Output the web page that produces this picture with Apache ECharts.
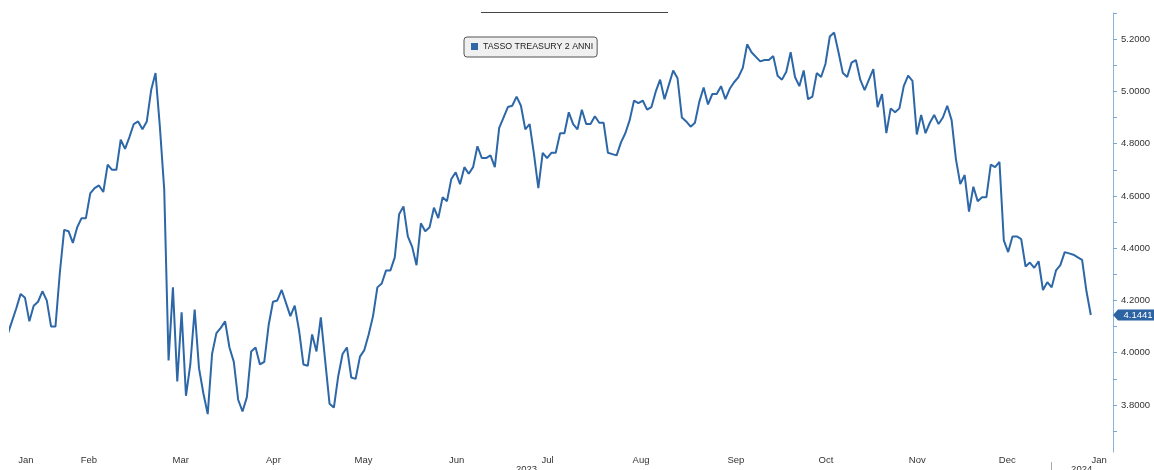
<!DOCTYPE html>
<html><head><meta charset="utf-8">
<script src="https://cdn.jsdelivr.net/npm/echarts@6/dist/echarts.min.js"></script>
<style>html,body{margin:0;padding:0;background:#fff;overflow:hidden}#c{width:1154px;height:470px}</style>
</head><body><div id="c"></div>
<script>
// Trading-day index (0 = first trading day shown) and 2-year Treasury yield (%)
const tradingDay = [-1,0,1,2,3,4,5,6,7,8,9,10,11,12,13,14,15,16,17,18,19,20,21,22,23,24,25,26,27,28,29,30,31,32,33,34,35,36,37,38,39,40,41,42,43,44,45,46,47,48,49,50,51,52,53,54,55,56,57,58,59,60,61,62,64,65,66,67,68,69,70,71,72,73,74,75,76,77,78,79,80,81,82,83,84,85,86,87,88,89,90,91,92,93,94,95,96,97,98,99,100,101,102,103,104,105,106,107,108,109,110,111,112,113,114,115,116,117,118,119,120,121,122,123,124,125,126,127,128,129,130,131,132,133,134,135,136,137,138,139,140,141,142,143,144,145,146,147,148,149,150,151,152,153,154,155,156,157,158,159,160,161,162,163,164,165,166,167,168,169,170,172,173,174,175,176,177,178,179,180,181,182,183,184,185,186,187,188,189,190,191,192,193,194,195,196,197,198,199,200,201,202,203,204,205,206,207,208,209,210,211,212,213,214,215,216,217,218,219,220,221,222,223,224,225,226,227,228,229,230,231,232,233,234,235,236,237,238,239,240,241,242,243,244,245,246,247,248];
const yieldValues = [4.07,4.12,4.17,4.225,4.21,4.12,4.18,4.195,4.235,4.20,4.10,4.10,4.305,4.47,4.465,4.42,4.48,4.515,4.515,4.61,4.63,4.64,4.615,4.72,4.70,4.70,4.815,4.78,4.825,4.875,4.885,4.855,4.885,5.005,5.07,4.865,4.625,3.97,4.25,3.89,4.155,3.835,3.955,4.165,3.94,3.845,3.765,3.995,4.075,4.095,4.12,4.02,3.965,3.82,3.775,3.83,4.005,4.02,3.955,3.965,4.105,4.195,4.20,4.24,4.14,4.18,4.085,3.955,3.95,4.07,4.005,4.135,3.97,3.805,3.79,3.91,3.995,4.02,3.905,3.90,3.985,4.01,4.07,4.14,4.25,4.265,4.315,4.315,4.365,4.53,4.56,4.445,4.405,4.335,4.495,4.465,4.48,4.555,4.515,4.595,4.58,4.665,4.69,4.645,4.71,4.685,4.71,4.79,4.745,4.745,4.755,4.71,4.86,4.90,4.94,4.945,4.98,4.945,4.855,4.875,4.76,4.63,4.765,4.745,4.765,4.765,4.84,4.84,4.92,4.875,4.855,4.93,4.875,4.875,4.905,4.88,4.88,4.765,4.76,4.755,4.805,4.84,4.89,4.965,4.955,4.965,4.93,4.94,5.00,5.045,4.97,5.025,5.08,5.05,4.90,4.885,4.865,4.88,4.96,5.015,4.95,4.99,4.99,5.02,4.97,5.01,5.035,5.055,5.09,5.18,5.15,5.115,5.12,5.12,5.135,5.06,5.045,5.075,5.15,5.055,5.02,5.08,4.97,4.98,5.07,5.055,5.105,5.21,5.225,5.15,5.07,5.055,5.11,5.12,5.045,5.005,5.045,5.085,4.94,4.99,4.84,4.935,4.92,4.935,5.02,5.06,5.04,4.835,4.91,4.84,4.88,4.91,4.875,4.90,4.945,4.89,4.74,4.645,4.68,4.54,4.635,4.58,4.595,4.595,4.72,4.71,4.73,4.43,4.385,4.445,4.445,4.435,4.33,4.345,4.325,4.35,4.24,4.27,4.25,4.315,4.335,4.385,4.38,4.375,4.365,4.355,4.235,4.1441];
const seriesName = 'TASSO TREASURY 2 ANNI';
const monthLabels = ['Jan','Feb','Mar','Apr','May','Jun','Jul','Aug','Sep','Oct','Nov','Dec','Jan'];
const monthLabelDay = [3.2,17.7,38.8,60.1,80.8,102.2,123.1,144.6,166.4,187.1,208.1,228.8,249.9];
const yearLabels = ['2023','2024'];
const yearLabelDay = [118.3,245.9];
const yearSeparatorDay = [238.9];
const yLabelValues = [3.8,4.0,4.2,4.4,4.6,4.8,5.0,5.2];
const yTickValues = [3.7,3.8,3.9,4.0,4.1,4.2,4.3,4.4,4.5,4.6,4.7,4.8,4.9,5.0,5.1,5.2,5.3];

const X_MIN = -0.45, X_MAX = 253.1;
const lastValue = yieldValues[yieldValues.length - 1];
const lineColor = '#2d67a8';
const font = 'Liberation Sans, Arial, sans-serif';

function nearestLabel(values, labels, v) {
  let bi = 0, bd = Infinity;
  values.forEach((x, i) => { const d = Math.abs(x - v); if (d < bd) { bd = d; bi = i; } });
  return labels[bi];
}

const chart = echarts.init(document.getElementById('c'), null, {renderer: 'canvas'});
chart.setOption({
  animation: false,
  backgroundColor: '#ffffff',
  grid: {left: 10, right: 41, top: 13, bottom: 18, containLabel: false, outerBoundsMode: 'none'},
  legend: {
    show: true, left: 464, top: 37,
    data: [seriesName],
    icon: 'rect', itemWidth: 7, itemHeight: 7,
    backgroundColor: '#f0f0f0', borderColor: '#555', borderWidth: 1, borderRadius: 3,
    padding: [5, 4, 6, 7],
    textStyle: {fontFamily: font, fontSize: 8.8, color: '#222'}
  },
  graphic: [{
    type: 'line', shape: {x1: 481, y1: 12.5, x2: 668, y2: 12.5},
    style: {stroke: '#444', lineWidth: 1}, silent: true
  }],
  xAxis: [{
    type: 'value', min: X_MIN, max: X_MAX,
    axisLine: {show: false, onZero: false}, axisTick: {show: false}, splitLine: {show: false},
    axisLabel: {
      customValues: monthLabelDay, margin: 3,
      fontFamily: font, fontSize: 9.5, color: '#333', hideOverlap: false,
      formatter: v => nearestLabel(monthLabelDay, monthLabels, v)
    }
  }, {
    type: 'value', min: X_MIN, max: X_MAX, position: 'bottom', offset: 10,
    axisLine: {show: false, onZero: false}, splitLine: {show: false},
    axisTick: {show: true, customValues: yearSeparatorDay, length: 9, lineStyle: {color: '#aaa'}},
    axisLabel: {
      customValues: yearLabelDay, margin: 2, hideOverlap: false,
      fontFamily: font, fontSize: 9.5, color: '#333',
      formatter: v => nearestLabel(yearLabelDay, yearLabels, v)
    }
  }],
  yAxis: {
    type: 'value', position: 'right', min: 3.62, max: 5.30, scale: true,
    axisLine: {show: true, onZero: false, lineStyle: {color: '#8db1db', width: 1}},
    axisTick: {show: true, customValues: yTickValues, length: 4, lineStyle: {color: '#7ea6d6'}},
    splitLine: {show: false},
    axisLabel: {
      customValues: yLabelValues, margin: 8,
      fontFamily: font, fontSize: 9.5, color: '#333',
      formatter: v => Number(v).toFixed(4)
    }
  },
  series: [{
    name: seriesName, type: 'line', xAxisIndex: 0,
    data: tradingDay.map((d, i) => [d, yieldValues[i]]),
    showSymbol: false, clip: true,
    lineStyle: {color: lineColor, width: 2},
    itemStyle: {color: lineColor},
    markPoint: {
      silent: true,
      symbol: 'path://M0,5 L5,0 L46,0 L46,10 L5,10 Z',
      symbolSize: [46, 11], symbolKeepAspect: false,
      symbolOffset: [23, 0],
      itemStyle: {color: '#2b63a3'},
      label: {
        show: true, position: 'inside', color: '#fff',
        fontFamily: font, fontSize: 9.5, offset: [2, 0],
        formatter: () => lastValue.toFixed(4)
      },
      data: [{coord: [X_MAX, lastValue], value: lastValue}]
    }
  }]
});
</script>
</body></html>
